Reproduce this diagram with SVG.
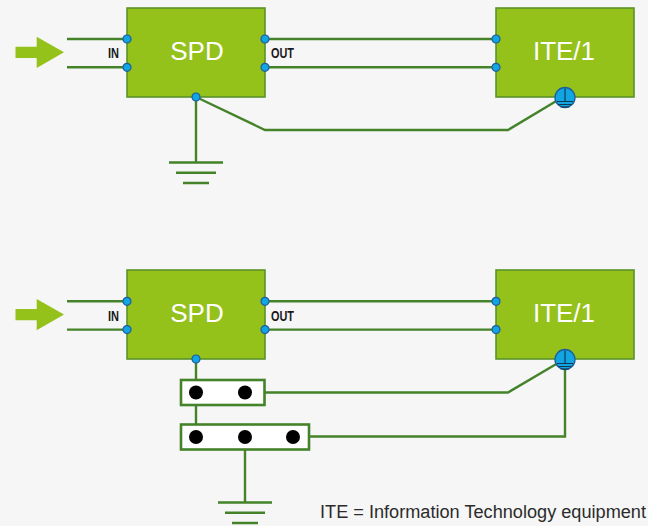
<svg xmlns="http://www.w3.org/2000/svg" width="648" height="526" viewBox="0 0 648 526">
<style>
.w{fill:none;stroke:#44832a;stroke-width:2.4;stroke-linejoin:miter}
.box{fill:#95c11b;stroke:#5b932a;stroke-width:1.6}
.port{fill:#12a5e3;stroke:#1d5d9c;stroke-width:1.2}
.gnd{fill:#12a5e3;stroke:#1d5d9c;stroke-width:1.3}
.sym{fill:none;stroke:#123a50;stroke-width:1.2}
.arrow{fill:#95c11b}
.term{fill:#fff;stroke:#44832a;stroke-width:2.6}
.t{font-family:"Liberation Sans",Arial,sans-serif;font-size:26px;fill:#fff;text-anchor:middle}
.s{font-family:"Liberation Sans Narrow","Liberation Sans",Arial,sans-serif;font-size:15px;font-weight:bold;fill:#1a1a1a}
.c{font-family:"Liberation Sans",Arial,sans-serif;font-size:18px;fill:#2b2b2b}
</style>
<defs>
<circle id="p" r="4" class="port"/>
<g id="g"><circle r="10" class="gnd"/><path class="sym" d="M0 -9V4M-8 4H8M-6.500 7H6.500M-4.500 9.500H4.500"/></g>
<path id="earth" class="w" d="M-27 0H27M-20 10.300H20M-13 20.500H13"/>
<polygon id="a" class="arrow" points="15.500,46.700 36.700,46.700 36.700,36.700 64,52.300 36.700,68 36.700,58 15.500,58"/>
</defs>
<rect width="648" height="526" fill="#f6f6f6"/>
<g id="connectors">
<path class="w" d="M67 39H127M67 67.300H127M265 39H496M265 67.300H496M196 97V162.500M196 97L265 130H508L558 100"/>
<path class="w" d="M67 301.300H127M67 329.600H127M265 301.300H496M265 329.600H496M196 359V380M196 405V424M245 449V502.500M264 392.500H508L558 363M309 436.500H565V360"/>
</g>
<use href="#a"/>
<use href="#a" y="262.300"/>
<use href="#earth" x="196" y="162.500"/>
<use href="#earth" x="245" y="502.500"/>
<g id="spd1"><rect class="box" x="127" y="8" width="138" height="89"/><text class="t" x="197" y="60">SPD</text>
<text class="s" x="108" y="58" textLength="11" lengthAdjust="spacingAndGlyphs">IN</text><text class="s" x="271" y="58" textLength="23" lengthAdjust="spacingAndGlyphs">OUT</text>
<use href="#p" x="127" y="39"/><use href="#p" x="127" y="67.300"/><use href="#p" x="265" y="39"/><use href="#p" x="265" y="67.300"/><use href="#p" x="196" y="97"/></g>
<g id="ite1"><rect class="box" x="496" y="8" width="138" height="89"/><text class="t" x="564" y="60">ITE/1</text>
<use href="#p" x="496" y="39"/><use href="#p" x="496" y="67.300"/><use href="#g" x="565" y="97.500"/></g>
<g id="spd2"><rect class="box" x="127" y="270" width="138" height="89"/><text class="t" x="197" y="322">SPD</text>
<text class="s" x="108" y="320.500" textLength="11" lengthAdjust="spacingAndGlyphs">IN</text><text class="s" x="271" y="320.500" textLength="23" lengthAdjust="spacingAndGlyphs">OUT</text>
<use href="#p" x="127" y="301.300"/><use href="#p" x="127" y="329.600"/><use href="#p" x="265" y="301.300"/><use href="#p" x="265" y="329.600"/><use href="#p" x="196" y="359"/></g>
<g id="ite2"><rect class="box" x="496" y="270" width="138" height="89"/><text class="t" x="564" y="322">ITE/1</text>
<use href="#p" x="496" y="301.300"/><use href="#p" x="496" y="329.600"/><use href="#g" x="565" y="359.500"/></g>
<g id="term1"><rect class="term" x="181" y="380" width="83.500" height="25"/><circle cx="196" cy="392.500" r="7"/><circle cx="245" cy="392.500" r="7"/></g>
<g id="term2"><rect class="term" x="181" y="424.500" width="128" height="25"/><circle cx="196" cy="437" r="7"/><circle cx="245" cy="437" r="7"/><circle cx="293" cy="437" r="7"/></g>
<text class="c" x="320" y="518" textLength="326" lengthAdjust="spacingAndGlyphs">ITE = Information Technology equipment</text>
</svg>
